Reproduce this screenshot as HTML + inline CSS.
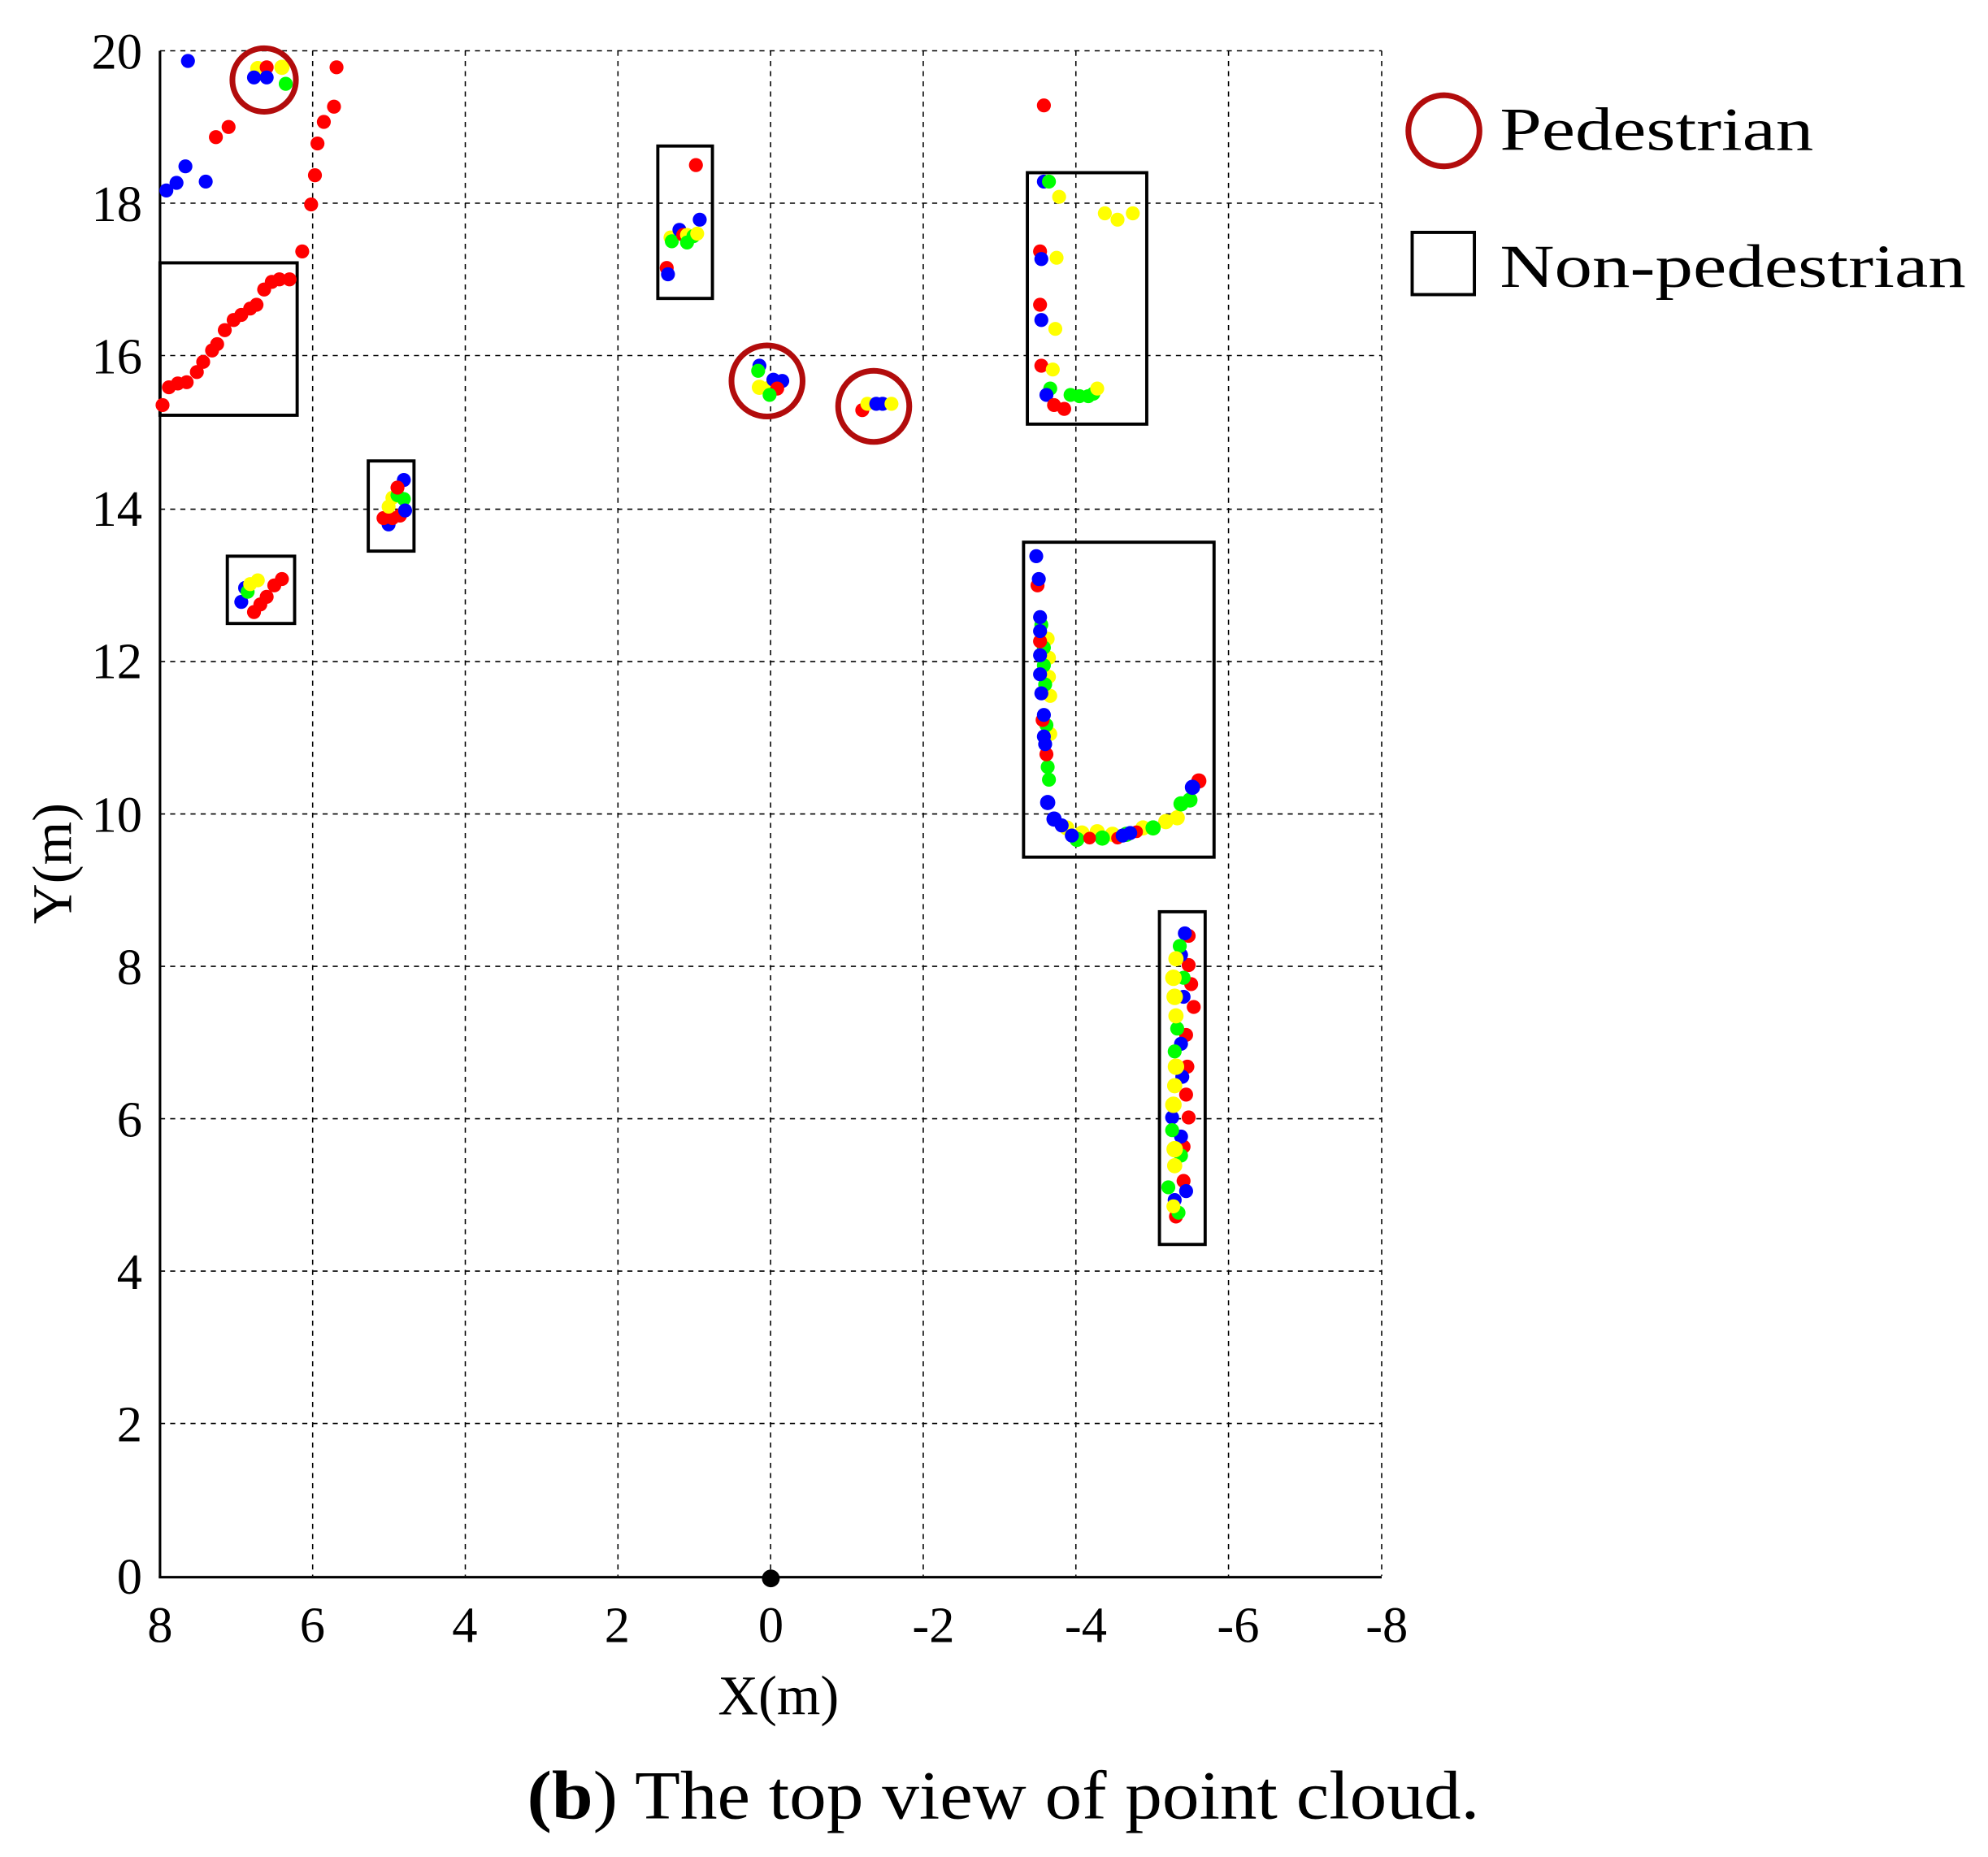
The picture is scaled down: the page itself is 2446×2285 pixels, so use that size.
<!DOCTYPE html>
<html><head><meta charset="utf-8"><style>html,body{margin:0;padding:0;background:#fff}svg{display:block}
circle[r="4.5"]{r:5.5px}circle[r="5"]{r:6px}circle[r="4"]{r:5px}circle[r="5.5"]{r:6.5px}</style></head>
<body>
<svg width="2446" height="2285" viewBox="0 0 1565.44 1462.4" xmlns="http://www.w3.org/2000/svg" font-family="'Liberation Serif', serif">
<rect width="1565.44" height="1462.4" fill="#fff"/>
<g stroke="#000" stroke-width="1" stroke-dasharray="4,4" fill="none">
<line x1="246.2" y1="40" x2="246.2" y2="1241"/><line x1="366.4" y1="40" x2="366.4" y2="1241"/><line x1="486.6" y1="40" x2="486.6" y2="1241"/><line x1="606.8" y1="40" x2="606.8" y2="1241"/><line x1="727" y1="40" x2="727" y2="1241"/><line x1="847.2" y1="40" x2="847.2" y2="1241"/><line x1="967.4" y1="40" x2="967.4" y2="1241"/><line x1="1088" y1="40" x2="1088" y2="1241"/>
<line x1="126" y1="40" x2="1088" y2="40"/><line x1="126" y1="160" x2="1088" y2="160"/><line x1="126" y1="280" x2="1088" y2="280"/><line x1="126" y1="401" x2="1088" y2="401"/><line x1="126" y1="521" x2="1088" y2="521"/><line x1="126" y1="641" x2="1088" y2="641"/><line x1="126" y1="761" x2="1088" y2="761"/><line x1="126" y1="881" x2="1088" y2="881"/><line x1="126" y1="1001" x2="1088" y2="1001"/><line x1="126" y1="1121" x2="1088" y2="1121"/>
</g>
<g stroke="#000" stroke-width="2" fill="none"><line x1="126" y1="40" x2="126" y2="1242"/><line x1="125" y1="1242" x2="1088" y2="1242"/></g>
<g font-size="40" fill="#000" text-anchor="end">
<text x="112" y="54">20</text><text x="112" y="174">18</text><text x="112" y="294">16</text><text x="112" y="414">14</text><text x="112" y="534">12</text><text x="112" y="655">10</text><text x="112" y="775">8</text><text x="112" y="895">6</text><text x="112" y="1015">4</text><text x="112" y="1135">2</text><text x="112" y="1255">0</text>
</g>
<g font-size="40" fill="#000" text-anchor="middle">
<text x="126" y="1293">8</text><text x="246" y="1293">6</text><text x="366" y="1293">4</text><text x="486" y="1293">2</text><text x="607" y="1293">0</text><text x="735" y="1293">-2</text><text x="855" y="1293">-4</text><text x="975" y="1293">-6</text><text x="1092" y="1293">-8</text>
<text x="613" y="1350" font-size="44">X(m)</text>
<text transform="translate(56,680) rotate(-90)" font-size="44">Y(m)</text>
</g>
<text x="415" y="1432" font-size="54" textLength="750" lengthAdjust="spacingAndGlyphs"><tspan font-weight="bold">(b</tspan>) The top view of point cloud.</text>
<circle cx="607" cy="1243" r="7" fill="#000"/>
<g stroke="#000" stroke-width="2.5" fill="none">
<rect x="126" y="207" width="108" height="120"/>
<rect x="179" y="438" width="53" height="53"/>
<rect x="290" y="363" width="36" height="71"/>
<rect x="518" y="115" width="43" height="120"/>
<rect x="809" y="136" width="94" height="198"/>
<rect x="806" y="427" width="150" height="248"/>
<rect x="913" y="718" width="36" height="262"/>
</g>
<g>
<g fill="#00f"><circle cx="148" cy="48" r="4.5"/><circle cx="131" cy="150" r="4.5"/><circle cx="139" cy="144" r="4.5"/><circle cx="146" cy="131" r="4.5"/><circle cx="162" cy="143" r="4.5"/></g>
<g fill="#f00"><circle cx="170" cy="108" r="4.5"/><circle cx="180" cy="100" r="4.5"/><circle cx="265" cy="53" r="4.5"/><circle cx="263" cy="84" r="4.5"/><circle cx="255" cy="96" r="4.5"/><circle cx="250" cy="113" r="4.5"/><circle cx="248" cy="138" r="4.5"/><circle cx="245" cy="161" r="4.5"/><circle cx="238" cy="198" r="4.5"/>
<circle cx="128" cy="319" r="4.5"/><circle cx="133" cy="305" r="4.5"/><circle cx="140" cy="302" r="4.5"/><circle cx="147" cy="301" r="4.5"/><circle cx="155" cy="293" r="4.5"/><circle cx="160" cy="285" r="4.5"/><circle cx="167" cy="276" r="4.5"/><circle cx="171" cy="271" r="4.5"/><circle cx="177" cy="260" r="4.5"/><circle cx="184" cy="252" r="4.5"/><circle cx="190" cy="248" r="4.5"/><circle cx="197" cy="243" r="4.5"/><circle cx="202" cy="240" r="4.5"/><circle cx="208" cy="228" r="4.5"/><circle cx="214" cy="222" r="4.5"/><circle cx="220" cy="220" r="4.5"/><circle cx="228" cy="220" r="4.5"/>
<circle cx="548" cy="130" r="4.5"/><circle cx="822" cy="83" r="4.5"/></g>
<circle cx="203" cy="54" r="5" fill="#ff0"/><circle cx="210" cy="53" r="4.5" fill="#f00"/><circle cx="222" cy="53" r="5" fill="#ff0"/><circle cx="200" cy="61" r="4.5" fill="#00f"/><circle cx="210" cy="61" r="4.5" fill="#00f"/><circle cx="225" cy="66" r="4.5" fill="#0f0"/>
<circle cx="190" cy="474" r="4.5" fill="#00f"/><circle cx="193" cy="463" r="4.5" fill="#00f"/><circle cx="195" cy="466" r="4.5" fill="#0f0"/><circle cx="197" cy="460" r="4.5" fill="#ff0"/><circle cx="203" cy="457" r="4.5" fill="#ff0"/>
<g fill="#f00"><circle cx="200" cy="482" r="4.5"/><circle cx="205" cy="476" r="4.5"/><circle cx="210" cy="470" r="4.5"/><circle cx="216" cy="461" r="4.5"/><circle cx="222" cy="456" r="4.5"/></g>
<circle cx="306" cy="413" r="4.5" fill="#00f"/><circle cx="302" cy="408" r="4.5" fill="#f00"/><circle cx="309" cy="408" r="4.5" fill="#f00"/><circle cx="315" cy="406" r="4.5" fill="#f00"/><circle cx="306" cy="399" r="4.5" fill="#ff0"/><circle cx="309" cy="392" r="4.5" fill="#ff0"/><circle cx="313" cy="390" r="4.5" fill="#0f0"/><circle cx="318" cy="393" r="4.5" fill="#0f0"/><circle cx="318" cy="378" r="4.5" fill="#00f"/><circle cx="313" cy="384" r="4.5" fill="#f00"/><circle cx="319" cy="402" r="4.5" fill="#00f"/>
<circle cx="525" cy="211" r="4.5" fill="#f00"/><circle cx="526" cy="216" r="4.5" fill="#00f"/><circle cx="528" cy="187" r="4.5" fill="#ff0"/><circle cx="529" cy="190" r="4.5" fill="#0f0"/><circle cx="535" cy="181" r="4.5" fill="#00f"/><circle cx="538" cy="185" r="4.5" fill="#f00"/><circle cx="541" cy="185" r="4.5" fill="#ff0"/><circle cx="541" cy="191" r="4.5" fill="#0f0"/><circle cx="546" cy="186" r="4.5" fill="#0f0"/><circle cx="549" cy="184" r="4.5" fill="#ff0"/><circle cx="551" cy="173" r="4.5" fill="#00f"/>
<circle cx="598" cy="288" r="4.5" fill="#00f"/><circle cx="597" cy="292" r="4.5" fill="#0f0"/><circle cx="598" cy="305" r="5" fill="#ff0"/><circle cx="605" cy="306" r="5" fill="#ff0"/><circle cx="609" cy="299" r="4.5" fill="#00f"/><circle cx="616" cy="300" r="4.5" fill="#00f"/><circle cx="612" cy="306" r="4.5" fill="#f00"/><circle cx="606" cy="311" r="4.5" fill="#0f0"/>
<circle cx="679" cy="323" r="4.5" fill="#f00"/><circle cx="683" cy="318" r="4.5" fill="#ff0"/><circle cx="690" cy="318" r="4.5" fill="#00f"/><circle cx="695" cy="318" r="4.5" fill="#00f"/><circle cx="702" cy="318" r="4.5" fill="#ff0"/>
<circle cx="822" cy="143" r="4.5" fill="#00f"/><circle cx="826" cy="143" r="4.5" fill="#0f0"/><circle cx="834" cy="155" r="4.5" fill="#ff0"/><circle cx="819" cy="198" r="4.5" fill="#f00"/><circle cx="820" cy="204" r="4.5" fill="#00f"/><circle cx="832" cy="203" r="4.5" fill="#ff0"/><circle cx="819" cy="240" r="4.5" fill="#f00"/><circle cx="820" cy="252" r="4.5" fill="#00f"/><circle cx="831" cy="259" r="4.5" fill="#ff0"/><circle cx="820" cy="288" r="4.5" fill="#f00"/><circle cx="829" cy="291" r="4.5" fill="#ff0"/><circle cx="827" cy="306" r="4.5" fill="#0f0"/><circle cx="824" cy="311" r="4.5" fill="#00f"/><circle cx="830" cy="319" r="4.5" fill="#f00"/><circle cx="838" cy="322" r="4.5" fill="#f00"/><circle cx="843" cy="311" r="4.5" fill="#0f0"/><circle cx="850" cy="312" r="4.5" fill="#0f0"/><circle cx="857" cy="312" r="4.5" fill="#0f0"/><circle cx="861" cy="310" r="4.5" fill="#0f0"/><circle cx="864" cy="306" r="4.5" fill="#ff0"/><circle cx="870" cy="168" r="4.5" fill="#ff0"/><circle cx="880" cy="173" r="4.5" fill="#ff0"/><circle cx="892" cy="168" r="4.5" fill="#ff0"/>
<g fill="#ff0"><circle cx="825" cy="503" r="4.5"/><circle cx="826" cy="518" r="4.5"/><circle cx="826" cy="533" r="4.5"/><circle cx="827" cy="548" r="4.5"/><circle cx="827" cy="578" r="4.5"/><circle cx="840" cy="652" r="5"/><circle cx="852" cy="656" r="5"/><circle cx="864" cy="655" r="5"/><circle cx="876" cy="657" r="5"/><circle cx="900" cy="652" r="5"/><circle cx="918" cy="647" r="5"/><circle cx="927" cy="644" r="5"/></g>
<g fill="#0f0"><circle cx="820" cy="492" r="4.5"/><circle cx="822" cy="510" r="4.5"/><circle cx="822" cy="524" r="4.5"/><circle cx="823" cy="539" r="4.5"/><circle cx="824" cy="571" r="4.5"/><circle cx="825" cy="604" r="4.5"/><circle cx="826" cy="614" r="4.5"/><circle cx="848" cy="661" r="5"/><circle cx="868" cy="660" r="5"/><circle cx="887" cy="657" r="5"/><circle cx="908" cy="652" r="5"/><circle cx="930" cy="633" r="5"/><circle cx="937" cy="630" r="5"/></g>
<g fill="#f00"><circle cx="817" cy="461" r="4.5"/><circle cx="819" cy="505" r="4.5"/><circle cx="821" cy="567" r="4.5"/><circle cx="824" cy="594" r="4.5"/><circle cx="858" cy="660" r="4"/><circle cx="880" cy="660" r="4"/><circle cx="895" cy="655" r="4"/><circle cx="944" cy="615" r="5"/></g>
<g fill="#00f"><circle cx="816" cy="438" r="4.5"/><circle cx="818" cy="456" r="4.5"/><circle cx="819" cy="486" r="4.5"/><circle cx="819" cy="497" r="4.5"/><circle cx="819" cy="516" r="4.5"/><circle cx="819" cy="531" r="4.5"/><circle cx="820" cy="546" r="4.5"/><circle cx="822" cy="563" r="4.5"/><circle cx="822" cy="580" r="4.5"/><circle cx="823" cy="586" r="4.5"/><circle cx="825" cy="632" r="5"/><circle cx="830" cy="645" r="5"/><circle cx="836" cy="650" r="4.5"/><circle cx="844" cy="658" r="4.5"/><circle cx="884" cy="658" r="4.5"/><circle cx="890" cy="656" r="4.5"/><circle cx="939" cy="620" r="5"/></g>
<g fill="#f00"><circle cx="936" cy="737" r="4.5"/><circle cx="936" cy="760" r="4.5"/><circle cx="938" cy="775" r="4.5"/><circle cx="940" cy="793" r="4.5"/><circle cx="934" cy="815" r="4.5"/><circle cx="935" cy="840" r="4.5"/><circle cx="934" cy="862" r="4.5"/><circle cx="936" cy="880" r="4.5"/><circle cx="932" cy="903" r="4.5"/><circle cx="932" cy="930" r="4.5"/><circle cx="926" cy="958" r="4.5"/></g>
<g fill="#00f"><circle cx="933" cy="735" r="4.5"/><circle cx="930" cy="752" r="4.5"/><circle cx="932" cy="785" r="4.5"/><circle cx="930" cy="822" r="4.5"/><circle cx="931" cy="848" r="4.5"/><circle cx="923" cy="880" r="4.5"/><circle cx="930" cy="895" r="4.5"/><circle cx="934" cy="938" r="4.5"/><circle cx="925" cy="945" r="4.5"/></g>
<g fill="#0f0"><circle cx="929" cy="745" r="4.5"/><circle cx="932" cy="770" r="4.5"/><circle cx="927" cy="810" r="4.5"/><circle cx="925" cy="828" r="4.5"/><circle cx="923" cy="890" r="4.5"/><circle cx="930" cy="910" r="4.5"/><circle cx="920" cy="935" r="4.5"/><circle cx="928" cy="955" r="4.5"/></g>
<g fill="#ff0"><circle cx="926" cy="755" r="5"/><circle cx="924" cy="770" r="5.5"/><circle cx="925" cy="785" r="5.5"/><circle cx="926" cy="800" r="5"/><circle cx="926" cy="840" r="5.5"/><circle cx="925" cy="855" r="5"/><circle cx="924" cy="870" r="5.5"/><circle cx="925" cy="905" r="5.5"/><circle cx="925" cy="918" r="5"/><circle cx="924" cy="950" r="4.5"/></g>
</g>
<g stroke="#b20c0c" stroke-width="4.5" fill="none">
<circle cx="208" cy="63" r="25"/><circle cx="604" cy="300" r="28"/><circle cx="688" cy="320" r="28"/>
<circle cx="1137" cy="103" r="28"/>
</g>
<rect x="1112" y="183" width="49" height="49" fill="none" stroke="#000" stroke-width="2.5"/>
<text x="1181" y="118" font-size="48" textLength="247" lengthAdjust="spacingAndGlyphs">Pedestrian</text>
<text x="1181" y="226" font-size="48" textLength="367" lengthAdjust="spacingAndGlyphs">Non-pedestrian</text>
</svg>
</body></html>
